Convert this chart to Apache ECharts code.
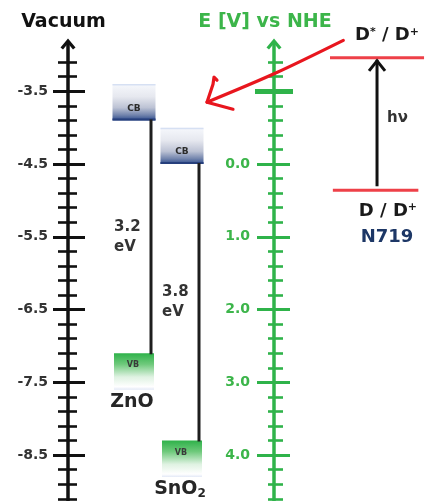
<!DOCTYPE html>
<html>
<head>
<meta charset="utf-8">
<script src="https://cdn.jsdelivr.net/npm/echarts@6/dist/echarts.min.js"></script>
<style>
html, body { margin: 0; padding: 0; background: #fff; }
#band-chart { width: 425px; height: 501px; }
</style>
</head>
<body>
<div id="band-chart"></div>
<script>
// 半导体能带边 (相对真空能级, eV)
const materials = ["ZnO", "SnO2"];
const cbEdge = [-3.9, -4.5];
const vbEdge = [-7.1, -8.3];
// 染料 N719 能级 (相对真空能级, eV): D*/D+ , D/D+
const dyeName = "N719";
const dyeLevels = [-3.04, -4.86];
// 左轴: 真空能级刻度
const vacMajor = [-8.5, -7.5, -6.5, -5.5, -4.5, -3.5];
const vacMinor = [-9.1, -8.9, -8.7, -8.3, -8.1, -7.9, -7.7, -7.3, -7.1, -6.9, -6.7,
  -6.3, -6.1, -5.9, -5.7, -5.3, -5.1, -4.9, -4.7, -4.3, -4.1, -3.9, -3.7, -3.3, -3.1];
// 右轴: E [V] vs NHE 刻度
const nheMajor = [0, 1, 2, 3, 4];
const nheMinor = [-1.4, -1.2, -0.8, -0.6, -0.4, -0.2, 0.2, 0.4, 0.6, 0.8, 1.2, 1.4,
  1.6, 1.8, 2.2, 2.4, 2.6, 2.8, 3.2, 3.4, 3.6, 3.8, 4.2, 4.4, 4.6];
const nheMark = [-1.0];

const NHE_ZERO = -4.5; // E(NHE) = -4.5 - E(vac)
const vacRange = [-9.13, -2.85];
const nheRange = [NHE_ZERO - vacRange[1], NHE_ZERO - vacRange[0]];
const boxDepth = 0.5;

const FONT = "DejaVu Sans";
const BLACK = "#111";
const GREEN = "#2fb34a";
const ARROW = "path://M0,9 L7.5,0 L15,9 L12.5,11 L7.5,5 L2.5,11 Z";

const chartInstance = echarts.init(document.getElementById("band-chart"));

// 一条刻度轴 (刻度线两侧都要画, 所以同一位置叠几根轴)
function tickAxis(side, values, inside, length, width, color, extra) {
  const isVac = side === "left";
  return Object.assign({
    type: "value",
    gridIndex: 0,
    position: side,
    inverse: !isVac,
    min: isVac ? vacRange[0] : nheRange[0],
    max: isVac ? vacRange[1] : nheRange[1],
    splitLine: { show: false },
    axisLine: { show: false },
    axisLabel: { show: false },
    axisTick: {
      show: true,
      customValues: values,
      inside: inside,
      length: length,
      lineStyle: { color: color, width: width }
    }
  }, extra || {});
}

const yAxes = [
  tickAxis("left", vacMajor, false, 15, 3, BLACK, {
    name: "Vacuum",
    nameLocation: "end",
    nameGap: 12,
    nameTextStyle: { color: "#111", fontFamily: FONT, fontWeight: "bold", fontSize: 19, padding: [0, 9, 0, 0] },
    axisLine: { show: true, symbol: ["none", ARROW], symbolSize: [15, 14], lineStyle: { color: BLACK, width: 3.5 } },
    axisLabel: {
      show: true, customValues: vacMajor, margin: 20,
      color: "#333", fontFamily: FONT, fontWeight: "bold", fontSize: 14,
      formatter: v => v.toFixed(1)
    }
  }),
  tickAxis("left", vacMajor, true, 17, 3, BLACK),
  tickAxis("left", vacMinor, false, 10, 2.6, BLACK),
  tickAxis("left", vacMinor, true, 9, 2.6, BLACK),
  tickAxis("right", nheMajor, false, 16, 3, GREEN, {
    name: "E [V] vs NHE",
    nameLocation: "start",
    nameGap: 12,
    nameTextStyle: { color: "#3cb54a", fontFamily: FONT, fontWeight: "bold", fontSize: 19, padding: [0, 18, 0, 0] },
    axisLine: { show: true, symbol: ["none", ARROW], symbolSize: [15, 14], lineStyle: { color: GREEN, width: 3.5 } },
    axisLabel: {
      show: true, inside: true, customValues: nheMajor, margin: 24,
      color: "#3cb54a", fontFamily: FONT, fontWeight: "bold", fontSize: 14,
      formatter: v => v.toFixed(1)
    }
  }),
  tickAxis("right", nheMajor, true, 17, 3, GREEN),
  tickAxis("right", nheMinor, false, 9, 2.6, GREEN),
  tickAxis("right", nheMinor, true, 6, 2.6, GREEN),
  tickAxis("right", nheMark, false, 19, 5, GREEN),
  tickAxis("right", nheMark, true, 19, 5, GREEN),
  // 能带图 / 染料 用的隐藏轴
  { type: "value", gridIndex: 1, min: vacRange[0], max: vacRange[1], show: false },
  { type: "value", gridIndex: 2, min: vacRange[0], max: vacRange[1], show: false }
];

const cbFill = new echarts.graphic.LinearGradient(0, 0, 0, 1, [
  { offset: 0, color: "#f6f8fc" },
  { offset: 0.35, color: "#e6e8ef" },
  { offset: 0.65, color: "#bcc2d4" },
  { offset: 0.85, color: "#7385ad" },
  { offset: 1, color: "#2c4a8c" }
]);
const vbFill = new echarts.graphic.LinearGradient(0, 0, 0, 1, [
  { offset: 0, color: "#2fb24a" },
  { offset: 0.3, color: "#6ec97b" },
  { offset: 0.65, color: "#dff2e2" },
  { offset: 0.92, color: "#ffffff" },
  { offset: 1, color: "#e3e9f6" }
]);

function renderBand(params, api) {
  const i = api.value(0);
  const cb = api.coord([i, api.value(1)]);
  const vb = api.coord([i, api.value(2)]);
  const depth = api.size([0, boxDepth])[1];
  const cx = cb[0];
  const gap = (api.value(1) - api.value(2)).toFixed(1);
  const name = materials[i].replace(/(\d)/g, "{sub|$1}");
  const lineX = cx + 17;
  return {
    type: "group",
    children: [
      { type: "rect", shape: { x: cx - 21.5, y: cb[1] - depth, width: 43, height: depth }, style: { fill: cbFill } },
      { type: "line", shape: { x1: cx - 21.5, y1: cb[1] - depth + 0.8, x2: cx + 21.5, y2: cb[1] - depth + 0.8 }, style: { stroke: "#d6e0f3", lineWidth: 1.6 } },
      { type: "line", shape: { x1: cx - 21.5, y1: cb[1] - 1, x2: cx + 21.5, y2: cb[1] - 1 }, style: { stroke: "#263f7c", lineWidth: 2 } },
      { type: "text", style: { text: "CB", x: cx, y: cb[1] - depth * 0.33, align: "center", verticalAlign: "middle", fontFamily: FONT, fontWeight: "bold", fontSize: 9, fill: "#2b2b2b" } },
      { type: "rect", shape: { x: cx - 20, y: vb[1], width: 40, height: depth }, style: { fill: vbFill } },
      { type: "text", style: { text: "VB", x: cx - 1, y: vb[1] + depth * 0.33, align: "center", verticalAlign: "middle", fontFamily: FONT, fontWeight: "bold", fontSize: 8, fill: "#3a3a3a" } },
      { type: "line", shape: { x1: lineX, y1: cb[1] - 1, x2: lineX, y2: vb[1] + 1 }, style: { stroke: "#1e1e1e", lineWidth: 3 } },
      { type: "text", style: { text: gap + "\neV", x: cx - 20, y: (cb[1] + vb[1]) / 2, align: "left", verticalAlign: "middle", fontFamily: FONT, fontWeight: "bold", fontSize: 15, lineHeight: 20, fill: "#333" } },
      {
        type: "text",
        style: {
          text: name, x: cx - 2, y: vb[1] + depth + 12, align: "center", verticalAlign: "middle",
          fontFamily: FONT, fontWeight: "bold", fontSize: 19, fill: "#262626",
          rich: { sub: { fontFamily: FONT, fontWeight: "bold", fontSize: 12, fill: "#262626", padding: [9, 0, 0, 0] } }
        }
      }
    ]
  };
}

function renderDye(params, api) {
  const X = v => api.coord([v, vacRange[1]])[0];
  const yTop = api.coord([0, api.value(1)])[1];
  const yBot = api.coord([0, api.value(2)])[1];
  const ax = X(0.495);
  const textStyle = { fontFamily: FONT, fontWeight: "bold", fontSize: 18, fill: "#1a1a1a", align: "center", verticalAlign: "middle" };
  const supStyle = { fontFamily: FONT, fontWeight: "bold", fontSize: 11, fill: "#1a1a1a", padding: [0, 0, 8, 0] };
  return {
    type: "group",
    children: [
      { type: "line", shape: { x1: X(0), y1: yTop, x2: X(0.99), y2: yTop }, style: { stroke: "#ee4048", lineWidth: 3 } },
      { type: "line", shape: { x1: X(0.03), y1: yBot, x2: X(0.93), y2: yBot }, style: { stroke: "#ee4048", lineWidth: 3 } },
      { type: "line", shape: { x1: ax, y1: yBot - 4, x2: ax, y2: yTop + 2 }, style: { stroke: "#111", lineWidth: 3 } },
      { type: "polyline", shape: { points: [[ax - 8, yTop + 13], [ax, yTop + 3], [ax + 8, yTop + 13]] }, style: { stroke: "#111", lineWidth: 3, fill: null } },
      { type: "text", style: Object.assign({}, textStyle, { text: "hν", x: ax + 10, y: (yTop + yBot) / 2 - 6, align: "left", fontSize: 15, fill: "#333" }) },
      { type: "text", style: Object.assign({}, textStyle, { text: "D{sup|*} / D{sup|+}", x: X(0.6), y: yTop - 22, rich: { sup: supStyle } }) },
      { type: "text", style: Object.assign({}, textStyle, { text: "D / D{sup|+}", x: X(0.61), y: yBot + 21, rich: { sup: supStyle } }) },
      { type: "text", style: Object.assign({}, textStyle, { text: dyeName, x: X(0.6), y: yBot + 47, fill: "#1d3766" }) }
    ]
  };
}

const option = {
  animation: false,
  backgroundColor: "#fff",
  grid: [
    { left: 68, right: 151, top: 44, bottom: 0 },
    { left: 110, width: 96, top: 44, bottom: 0 },
    { left: 330, right: 0, top: 44, bottom: 0 }
  ],
  xAxis: [
    { type: "value", gridIndex: 0, min: 0, max: 1, show: false },
    { type: "category", gridIndex: 1, data: materials, show: false },
    { type: "value", gridIndex: 2, min: 0, max: 1, show: false }
  ],
  yAxis: yAxes,
  series: [
    {
      type: "custom",
      name: "bands",
      xAxisIndex: 1,
      yAxisIndex: 10,
      clip: false,
      renderItem: renderBand,
      encode: { x: 0, y: [1, 2] },
      data: materials.map((m, i) => [i, cbEdge[i], vbEdge[i]])
    },
    {
      type: "custom",
      name: dyeName,
      xAxisIndex: 2,
      yAxisIndex: 11,
      clip: false,
      renderItem: renderDye,
      encode: { x: 0, y: [1, 2] },
      data: [[0, dyeLevels[0], dyeLevels[1]]]
    }
  ]
};
chartInstance.setOption(option);

// 手绘红色箭头: 从 D*/D+ 指向 ZnO 导带
const tipBand = chartInstance.convertToPixel({ gridIndex: 1 }, [1, cbEdge[0] + boxDepth / 2]);
const halfBand = (chartInstance.convertToPixel({ gridIndex: 1 }, [1, 0])[0] - chartInstance.convertToPixel({ gridIndex: 1 }, [0, 0])[0]) / 2;
const tip = [tipBand[0] + halfBand + 1, tipBand[1]];
const tail = chartInstance.convertToPixel({ gridIndex: 2 }, [0.14, dyeLevels[0] + 0.24]);
const red = { stroke: "#e8161e", lineWidth: 3.2, lineCap: "round", lineJoin: "round", fill: null };
chartInstance.setOption({
  graphic: [
    { type: "polyline", z: 100, shape: { points: [tip, [(tip[0] + tail[0]) / 2, (tip[1] + tail[1]) / 2 + 2], tail], smooth: 0.3 }, style: red },
    { type: "polyline", z: 100, shape: { points: [[tip[0] + 10, tip[1] - 22], [tip[0] + 7, tip[1] - 25], [tip[0] + 6, tip[1] - 18], [tip[0], tip[1]], [tip[0] + 26, tip[1] + 7]] }, style: red }
  ]
});
</script>
</body>
</html>
